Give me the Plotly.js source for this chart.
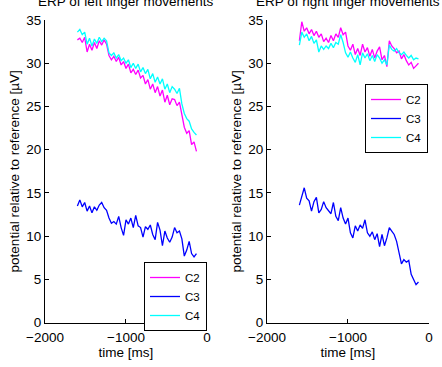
<!DOCTYPE html>
<html>
<head>
<meta charset="utf-8">
<script src="https://cdn.plot.ly/plotly-3.0.1.min.js"></script>
<style>
html, body { margin: 0; padding: 0; background: #fff; }
#chart { width: 442px; height: 367px; }
</style>
</head>
<body>
<div id="chart"></div>
<script>
// time axis (ms)
const timeMs = [-1600,-1570,-1540,-1510,-1480,-1450,-1420,-1390,-1360,-1330,
  -1300,-1270,-1240,-1210,-1180,-1150,-1120,-1090,-1060,-1030,
  -1000,-970,-940,-910,-880,-850,-820,-790,-760,-730,
  -700,-670,-640,-610,-580,-550,-520,-490,-460,-430,
  -400,-370,-340,-310,-280,-250,-220,-190,-160,-130];

// Left finger movements
const leftC2 = [32.7,32.9,32.4,33.0,31.3,32.2,31.5,32.4,31.7,32.6,
  32.1,32.7,32.2,30.9,30.4,30.8,30.2,30.7,29.8,30.2,
  29.4,29.9,28.9,29.3,28.7,29.2,28.3,28.6,27.6,28.1,
  27.0,27.6,26.6,27.3,26.2,26.9,25.5,26.3,25.2,25.9,
  25.8,25.1,25.5,23.8,22.6,21.9,22.2,20.6,20.9,19.8];
const leftC3 = [13.5,14.2,13.4,13.9,12.9,13.5,12.7,13.4,13.0,13.6,
  13.9,13.3,13.0,12.1,11.5,11.7,11.4,12.3,11.0,10.1,
  11.9,11.4,12.1,11.0,12.4,11.2,11.0,9.9,11.1,10.8,
  11.3,10.2,9.6,11.6,10.7,8.9,10.6,9.8,9.3,9.9,
  11.0,10.4,10.6,9.7,7.7,8.4,9.4,8.0,7.6,8.0];
const leftC4 = [33.6,33.9,33.3,33.6,32.2,32.9,32.0,32.8,32.3,33.0,
  32.5,32.9,32.6,31.2,30.9,31.2,30.6,31.0,30.3,30.6,
  30.0,30.4,29.5,30.0,29.4,29.9,29.0,29.5,28.8,29.3,
  28.2,28.8,27.8,28.4,27.6,28.2,27.0,27.6,26.6,27.3,
  27.0,26.5,27.1,25.3,24.2,23.6,23.3,22.4,22.0,21.7];

// Right finger movements
const rightC2 = [32.6,34.8,33.7,34.1,33.4,33.9,33.2,33.7,33.0,33.4,
  32.5,32.9,32.4,33.2,32.6,33.4,33.0,34.1,33.3,33.6,
  32.0,31.5,32.2,31.0,31.7,30.9,32.2,31.3,31.8,30.8,
  31.6,30.6,31.4,31.9,30.4,30.9,29.6,32.6,32.0,31.7,
  31.2,31.4,30.5,31.0,30.3,29.8,30.1,29.4,29.7,30.0];
const rightC3 = [13.6,14.6,15.6,14.4,14.1,12.9,14.0,14.5,12.7,13.1,
  14.0,13.3,12.9,12.6,13.9,12.3,11.8,13.3,12.1,11.4,
  12.1,10.4,9.8,11.2,10.6,11.3,10.9,11.9,10.4,10.0,
  10.5,9.6,10.3,8.8,10.2,8.9,9.8,11.0,10.6,10.2,
  9.4,7.9,6.8,7.3,7.0,7.2,5.6,5.0,4.4,4.7];
const rightC4 = [32.1,33.6,33.0,33.4,32.6,33.1,32.3,32.7,31.3,32.0,
  31.6,32.0,31.7,32.3,31.8,32.4,32.2,33.3,32.4,31.2,
  30.7,31.3,30.6,30.1,31.0,29.8,31.2,30.6,31.1,30.3,
  30.9,30.2,31.0,30.6,30.0,30.4,29.8,32.1,31.6,31.4,
  31.7,31.2,31.0,31.3,30.9,30.6,30.9,30.4,30.6,30.5];

const channelNames = ['C2','C3','C4'];
const channelColors = ['#ff00ff','#0000ff','#00ffff'];
const titles = ['ERP of left finger movements','ERP of right finger movements'];
const xTicks = [-2000,-1000,0];
const yTicks = [0,5,10,15,20,25,30,35];

const FONT = 'Liberation Sans, Arial, Helvetica, sans-serif';
const leftSeries = [leftC2, leftC3, leftC4];
const rightSeries = [rightC2, rightC3, rightC4];

const traces = [];
leftSeries.forEach((ys, i) => traces.push({
  x: timeMs, y: ys, type: 'scatter', mode: 'lines', name: channelNames[i],
  line: {color: channelColors[i], width: 1.3}, xaxis: 'x', yaxis: 'y', legend: 'legend'
}));
rightSeries.forEach((ys, i) => traces.push({
  x: timeMs, y: ys, type: 'scatter', mode: 'lines', name: channelNames[i],
  line: {color: channelColors[i], width: 1.3}, xaxis: 'x2', yaxis: 'y2', legend: 'legend2'
}));

function xax(domain, anchor) {
  return {
    domain: domain, anchor: anchor, range: [-2000, 0], tickvals: xTicks,
    ticks: 'inside', ticklen: 4, tickcolor: '#000', showline: true, linecolor: '#000',
    linewidth: 1, mirror: false, showgrid: false, zeroline: false,
    ticklabelstandoff: 2,
    tickfont: {family: FONT, size: 13.5, color: '#000'},
    title: {text: 'time [ms]', font: {family: FONT, size: 13.5, color: '#000'}, standoff: 2}
  };
}
function yax(anchor) {
  return {
    domain: [0.1207, 0.9455], anchor: anchor, range: [0, 35], tickvals: yTicks,
    ticks: 'inside', ticklen: 4, tickcolor: '#000', showline: true, linecolor: '#000',
    linewidth: 1, mirror: false, showgrid: false, zeroline: false,
    tickfont: {family: FONT, size: 13.5, color: '#000'},
    title: {text: 'potential relative to reference [µV]', font: {family: FONT, size: 13.5, color: '#000'}, standoff: 3}
  };
}

const legendStyle = {
  bgcolor: '#fff', bordercolor: '#000', borderwidth: 1,
  font: {family: FONT, size: 11.5, color: '#000'}, itemwidth: 30, tracegroupgap: 0
};

const layout = {
  width: 442, height: 367,
  margin: {l: 0, r: 0, t: 0, b: 0, pad: 0},
  paper_bgcolor: '#fff', plot_bgcolor: '#fff',
  showlegend: true,
  xaxis: xax([0.1018, 0.4683], 'y'),
  yaxis: yax('x'),
  xaxis2: xax([0.604, 0.9706], 'y2'),
  yaxis2: yax('x2'),
  legend: Object.assign({x: 0.4683, y: 0.2861, xanchor: 'right', yanchor: 'top'}, legendStyle),
  legend2: Object.assign({x: 0.9683, y: 0.7711, xanchor: 'right', yanchor: 'top'}, legendStyle),
  annotations: titles.map((t, i) => ({
    text: t, xref: 'paper', yref: 'paper',
    x: i === 0 ? 0.285 : 0.787, y: 1.0, xanchor: 'center', yanchor: 'middle',
    yshift: -1, showarrow: false,
    font: {family: FONT, size: 13.5, color: '#000'}
  }))
};

Plotly.newPlot('chart', traces, layout, {staticPlot: true, displayModeBar: false});
</script>
</body>
</html>
